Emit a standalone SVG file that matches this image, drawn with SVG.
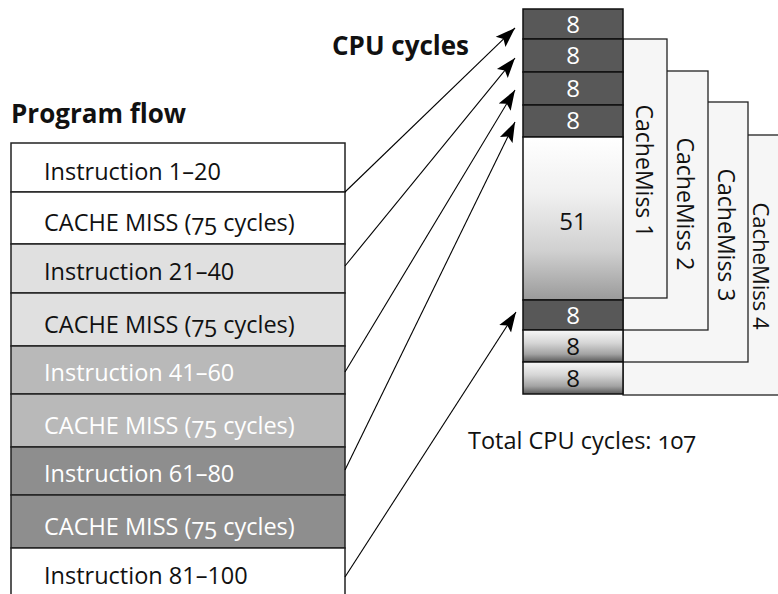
<svg xmlns="http://www.w3.org/2000/svg" width="778" height="594" viewBox="0 0 778 594">
  <defs>
    <linearGradient id="fade51" x1="0" y1="0" x2="0" y2="1">
      <stop offset="0" stop-color="#ffffff"/>
      <stop offset="0.35" stop-color="#f0f0f0"/>
      <stop offset="0.7" stop-color="#d0d0d0"/>
      <stop offset="1" stop-color="#9a9a9a"/>
    </linearGradient>
    <linearGradient id="fade8" x1="0" y1="0" x2="0" y2="1">
      <stop offset="0" stop-color="#f8f8f8"/>
      <stop offset="0.4" stop-color="#d6d6d6"/>
      <stop offset="0.75" stop-color="#a4a4a4"/>
      <stop offset="1" stop-color="#585858"/>
    </linearGradient>
    <marker id="head" markerUnits="userSpaceOnUse" markerWidth="22" markerHeight="16" refX="20" refY="8" orient="auto">
      <path d="M0,1 L20,8 L0,15 L4,8 Z" fill="#000"/>
    </marker>
    <style>
      .row { stroke: #222; stroke-width: 1.5; }
      .w { fill: #ffffff; }
      .l { fill: #e0e0e0; }
      .m { fill: #b9b9b9; }
      .d { fill: #8e8e8e; }
      .lbl { font-family: "Open Sans", "Noto Sans", sans-serif; font-size: 23.5px; }
      .dark { fill: #111; }
      .light { fill: #ffffff; }
      .title { font-family: "Open Sans", "Noto Sans", sans-serif; font-size: 26px; font-weight: bold; fill: #111; }
      .blk { stroke: #111; stroke-width: 1.5; }
      .dk { fill: #585858; }
      .num { font-family: "Open Sans", "DejaVu Sans", sans-serif; font-size: 24px; text-anchor: middle; }
      .miss { fill: #f6f6f6; stroke: #222; stroke-width: 1.3; }
      .misst { font-family: "Open Sans", "DejaVu Sans", sans-serif; font-size: 23px; text-anchor: middle; fill: #111; }
      .conn { stroke: #000; stroke-width: 1.1; fill: none; marker-end: url(#head); }
      .osf { font-variant-numeric: oldstyle-nums; }
    </style>
  </defs>

  <!-- headings -->
  <g id="program-flow-title">
    <text class="title" x="11" y="123">Program flow</text>
  </g>
  <g id="cpu-cycles-title">
    <text class="title" x="332" y="55">CPU cycles</text>
  </g>

  <!-- program flow column -->
  <g id="row-1"><rect class="row w" x="11" y="143" width="334" height="49"/><text class="lbl dark" x="44" y="180">Instruction 1–20</text></g>
  <g id="row-2"><rect class="row w" x="11" y="192" width="334" height="52"/><text class="lbl dark" x="44" y="231">CACHE MISS (<tspan class="osf">75</tspan> cycles)</text></g>
  <g id="row-3"><rect class="row l" x="11" y="244" width="334" height="49"/><text class="lbl dark" x="44" y="280">Instruction 21–40</text></g>
  <g id="row-4"><rect class="row l" x="11" y="293" width="334" height="53"/><text class="lbl dark" x="44" y="333">CACHE MISS (<tspan class="osf">75</tspan> cycles)</text></g>
  <g id="row-5"><rect class="row m" x="11" y="346" width="334" height="48"/><text class="lbl light" x="44" y="381">Instruction 41–60</text></g>
  <g id="row-6"><rect class="row m" x="11" y="394" width="334" height="53"/><text class="lbl light" x="44" y="434">CACHE MISS (<tspan class="osf">75</tspan> cycles)</text></g>
  <g id="row-7"><rect class="row d" x="11" y="447" width="334" height="48"/><text class="lbl light" x="44" y="482">Instruction 61–80</text></g>
  <g id="row-8"><rect class="row d" x="11" y="495" width="334" height="53"/><text class="lbl light" x="44" y="535">CACHE MISS (<tspan class="osf">75</tspan> cycles)</text></g>
  <g id="row-9">
    <rect class="w" x="11" y="548" width="334" height="50"/>
    <path class="row" d="M11,598 V548 H345 V598" fill="none"/>
    <text class="lbl dark" x="44" y="584">Instruction 81–100</text>
  </g>

  <!-- cache miss spans, back to front -->
  <g id="cachemiss-4"><rect class="miss" x="623" y="135" width="170" height="260"/><text class="misst" style="font-size:22px" transform="translate(753,266) rotate(90)">CacheMiss 4</text></g>
  <g id="cachemiss-3"><rect class="miss" x="623" y="102" width="125" height="260"/><text class="misst" transform="translate(718,235) rotate(90)">CacheMiss 3</text></g>
  <g id="cachemiss-2"><rect class="miss" x="623" y="71" width="85" height="259"/><text class="misst" transform="translate(677,204) rotate(90)">CacheMiss 2</text></g>
  <g id="cachemiss-1"><rect class="miss" x="623" y="39" width="44" height="259"/><text class="misst" transform="translate(636,171) rotate(90)">CacheMiss 1</text></g>

  <!-- CPU cycle stack -->
  <g id="cycle-1"><rect class="blk dk" x="523" y="9" width="100" height="30"/><text class="num light" x="573" y="33">8</text></g>
  <g id="cycle-2"><rect class="blk dk" x="523" y="39" width="100" height="33"/><text class="num light" x="573" y="64">8</text></g>
  <g id="cycle-3"><rect class="blk dk" x="523" y="72" width="100" height="33"/><text class="num light" x="573" y="97">8</text></g>
  <g id="cycle-4"><rect class="blk dk" x="523" y="105" width="100" height="32"/><text class="num light" x="573" y="129">8</text></g>
  <g id="cycle-5"><rect class="blk" fill="url(#fade51)" x="523" y="137" width="100" height="163"/><text class="num dark" x="573" y="230">51</text></g>
  <g id="cycle-6"><rect class="blk dk" x="523" y="300" width="100" height="30"/><text class="num light" x="573" y="324">8</text></g>
  <g id="cycle-7"><rect class="blk" fill="url(#fade8)" x="523" y="330" width="100" height="32"/><text class="num dark" x="573" y="355">8</text></g>
  <g id="cycle-8"><rect class="blk" fill="url(#fade8)" x="523" y="362" width="100" height="32"/><text class="num dark" x="573" y="387">8</text></g>

  <g id="total">
    <text class="lbl dark" x="468" y="449">Total CPU cycles: <tspan class="osf">107</tspan></text>
  </g>

  <!-- connectors -->
  <g id="connectors">
    <line class="conn" x1="345" y1="192" x2="515" y2="28"/>
    <line class="conn" x1="345" y1="266" x2="515" y2="58"/>
    <line class="conn" x1="345" y1="372" x2="515" y2="90"/>
    <line class="conn" x1="345" y1="470" x2="515" y2="122"/>
    <line class="conn" x1="345" y1="577" x2="516" y2="312"/>
  </g>
</svg>
